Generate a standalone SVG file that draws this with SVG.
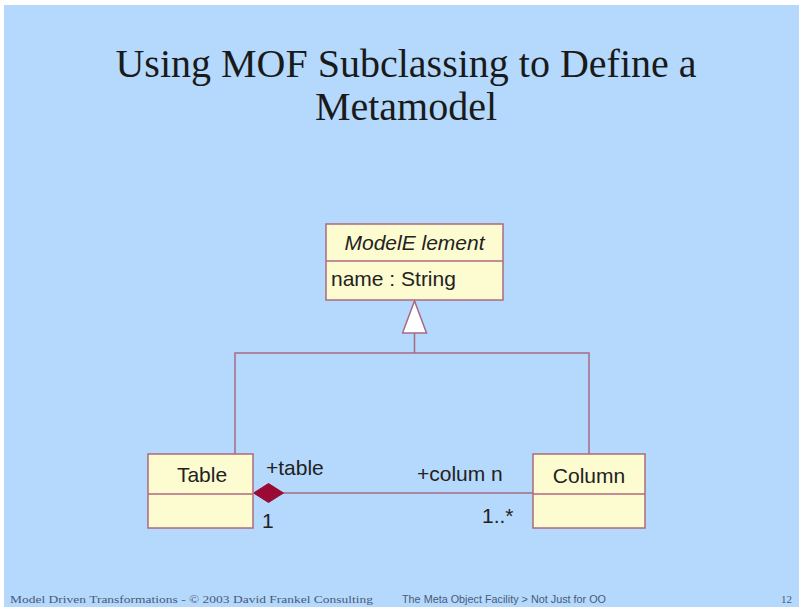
<svg xmlns="http://www.w3.org/2000/svg" width="799" height="607" viewBox="0 0 799 607">
  <style>
    .title { font-family: "Liberation Serif", "Times New Roman", serif; font-size: 40px; fill: #1a1a1a; text-anchor: middle; }
    .cls { fill: #fdfbd0; stroke: #b0687f; stroke-width: 1.5; }
    .div { stroke: #b0687f; stroke-width: 1.5; }
    .lbl { font-family: "Liberation Sans", Arial, sans-serif; font-size: 21px; fill: #222; }
    .mid { text-anchor: middle; }
    .conn { fill: none; stroke: #a86a82; stroke-width: 1.5; }
    .foot { font-family: "Liberation Serif", "Times New Roman", serif; font-size: 11px; fill: #4a5a78; }
    .footsans { font-family: "Liberation Sans", Arial, sans-serif; font-size: 10px; fill: #4a5a78; }
  </style>
  <defs>
    <!-- hollow UML generalization head; tip at the marker's +x end -->
    <marker id="inherit" viewBox="0 0 34 26" refX="33" refY="13" markerWidth="34" markerHeight="26" markerUnits="userSpaceOnUse" orient="auto">
      <path d="M33,13 L1,1 L1,25 Z" fill="#ffffff" stroke="#a86a82" stroke-width="1.5"/>
    </marker>
  </defs>

  <!-- slide background -->
  <rect x="0" y="0" width="799" height="607" fill="#ffffff"/>
  <rect x="4" y="5" width="795" height="602" fill="#b4d9fc"/>

  <!-- title -->
  <text class="title" x="406" y="77">Using MOF Subclassing to Define a</text>
  <text class="title" x="406" y="120">Metamodel</text>

  <!-- connectors -->
  <g id="connectors">
    <!-- generalization tree -->
    <path class="conn" d="M235,454 L235,353 L589,353 L589,454"/>
    <path class="conn" d="M414.5,353 L414.5,301" marker-end="url(#inherit)"/>
    <!-- composition Table -> Column -->
    <line class="conn" x1="283" y1="493" x2="533" y2="493"/>
    <path d="M253.5,493 L268.5,483.5 L283.5,493 L268.5,502.5 Z" fill="#9a0a34" stroke="#9a0a34" stroke-width="1"/>
    <text class="lbl" x="266" y="475">+table</text>
    <text class="lbl" x="262" y="528">1</text>
    <text class="lbl" x="417" y="481">+colum n</text>
    <text class="lbl" x="482" y="523">1..*</text>
  </g>

  <!-- ModelElement -->
  <g id="ModelElement">
    <rect class="cls" x="326" y="224" width="177" height="76"/>
    <line class="div" x1="326" y1="261" x2="503" y2="261"/>
    <text class="lbl mid" x="414.5" y="250" font-style="italic" font-size="21.5">ModelE lement</text>
    <text class="lbl" x="331" y="286" font-size="22.5">name : String</text>
  </g>

  <!-- Table -->
  <g id="Table">
    <rect class="cls" x="148" y="454" width="105" height="74"/>
    <line class="div" x1="148" y1="494" x2="253" y2="494"/>
    <text class="lbl mid" x="202" y="482">Table</text>
  </g>

  <!-- Column -->
  <g id="Column">
    <rect class="cls" x="533" y="454" width="112" height="74"/>
    <line class="div" x1="533" y1="494" x2="645" y2="494"/>
    <text class="lbl mid" x="589" y="483">Column</text>
  </g>

  <!-- footer -->
  <text class="foot" x="10" y="603" textLength="363" lengthAdjust="spacingAndGlyphs">Model Driven Transformations - © 2003 David Frankel Consulting</text>
  <text class="footsans" x="402" y="603" textLength="204" lengthAdjust="spacingAndGlyphs">The Meta Object Facility &gt; Not Just for OO</text>
  <text class="foot" x="781" y="603">12</text>
</svg>
